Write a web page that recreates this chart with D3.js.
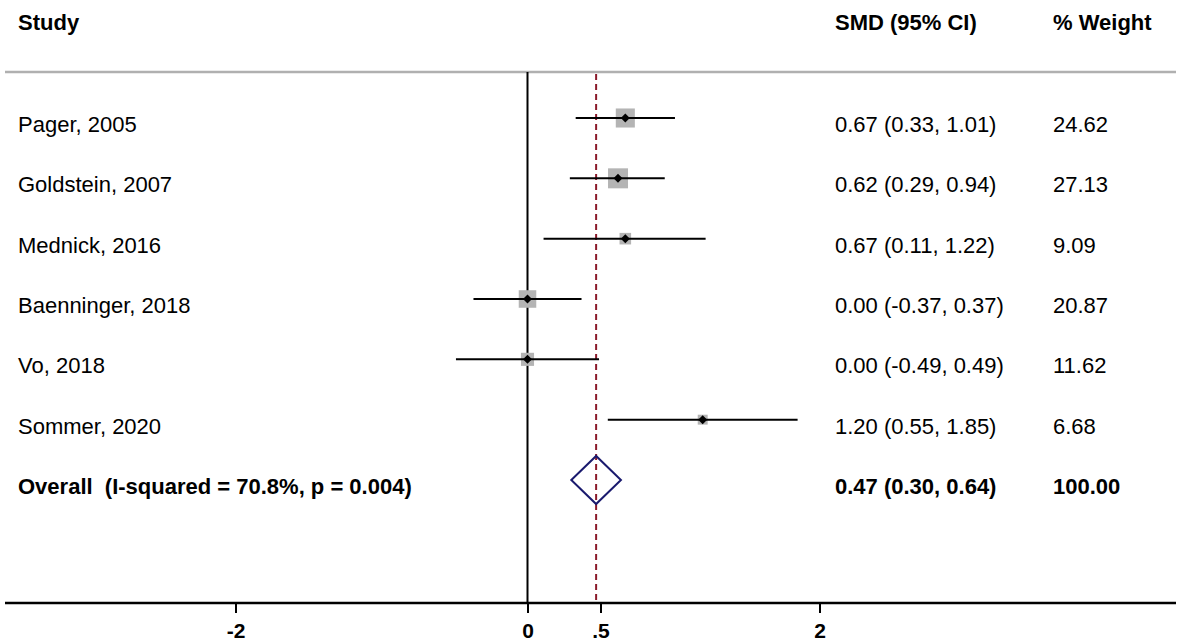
<!DOCTYPE html>
<html>
<head>
<meta charset="utf-8">
<script src="https://cdn.jsdelivr.net/npm/d3@7"></script>
<style>
  html, body { margin: 0; padding: 0; background: #fff; }
  text { font-family: "Liberation Sans", Arial, sans-serif; fill: #000; }
</style>
</head>
<body>
<svg id="chart" width="1181" height="643"></svg>
<script>
const studies = ["Pager, 2005", "Goldstein, 2007", "Mednick, 2016", "Baenninger, 2018", "Vo, 2018", "Sommer, 2020"];
const smd = [0.67, 0.62, 0.67, 0.00, 0.00, 1.20];
const lower = [0.33, 0.29, 0.11, -0.37, -0.49, 0.55];
const upper = [1.01, 0.94, 1.22, 0.37, 0.49, 1.85];
const weights = ["24.62", "27.13", "9.09", "20.87", "11.62", "6.68"];
const ciLabels = ["0.67 (0.33, 1.01)", "0.62 (0.29, 0.94)", "0.67 (0.11, 1.22)", "0.00 (-0.37, 0.37)", "0.00 (-0.49, 0.49)", "1.20 (0.55, 1.85)"];

const overallLabel = "Overall  (I-squared = 70.8%, p = 0.004)";
const overallEst = 0.47, overallLow = 0.30, overallHigh = 0.64;
const overallCi = "0.47 (0.30, 0.64)";
const overallWeight = "100.00";

const xTicks = [-2, 0, 0.5, 2];
const xTickLabels = ["-2", "0", ".5", "2"];

const width = 1181, height = 643;
const topRule = 72, axisY = 603;
const colStudy = 18, colCi = 835, colWeight = 1053;

const svg = d3.select("#chart");

const x = d3.scaleLinear().domain([-2, 2]).range([235.5, 819.5]);
const y = d3.scalePoint()
    .domain(studies.concat(["Overall"]))
    .range([118, 480]);
const side = d3.scaleSqrt().domain([0, 27.13]).range([0, 20]);

const rows = studies.map((s, i) => ({
    name: s, est: smd[i], lo: lower[i], hi: upper[i],
    w: +weights[i], wLabel: weights[i], ci: ciLabels[i]
}));

//headers
let head = svg.append("g").attr("font-weight", "bold").attr("font-size", 22);
head.append("text").attr("x", colStudy).attr("y", 30).text("Study");
head.append("text").attr("x", colCi).attr("y", 30).text("SMD (95% CI)");
head.append("text").attr("x", colWeight).attr("y", 30).text("% Weight");

svg.append("line")
    .attr("x1", 5).attr("x2", 1176)
    .attr("y1", topRule).attr("y2", topRule)
    .attr("stroke", "#b0b0b0").attr("stroke-width", 2.5);

//null line and overall line
svg.append("line")
    .attr("x1", x(0)).attr("x2", x(0))
    .attr("y1", topRule).attr("y2", axisY)
    .attr("stroke", "#000").attr("stroke-width", 2);

svg.append("line")
    .attr("x1", x(overallEst)).attr("x2", x(overallEst))
    .attr("y1", topRule + 2).attr("y2", axisY)
    .attr("stroke", "#8b1a2a").attr("stroke-width", 2)
    .attr("stroke-dasharray", "6,4");

//study rows
let row_g = svg.selectAll(".row")
    .data(rows)
    .enter().append("g")
    .attr("class", "row");

row_g.append("rect")
    .attr("fill", "#b4b4b4")
    .attr("x", d => x(d.est) - side(d.w) / 2)
    .attr("y", d => y(d.name) - side(d.w) / 2)
    .attr("width", d => side(d.w))
    .attr("height", d => side(d.w));

row_g.append("line")
    .attr("x1", d => x(d.lo)).attr("x2", d => x(d.hi))
    .attr("y1", d => y(d.name)).attr("y2", d => y(d.name))
    .attr("stroke", "#000").attr("stroke-width", 2);

row_g.append("path")
    .attr("fill", "#000")
    .attr("d", d => {
        let cx = x(d.est), cy = y(d.name), r = 4.5;
        return `M${cx - r},${cy}L${cx},${cy - r}L${cx + r},${cy}L${cx},${cy + r}Z`;
    });

row_g.append("text")
    .attr("x", colStudy).attr("y", d => y(d.name) + 14)
    .attr("font-size", 22)
    .text(d => d.name);

row_g.append("text")
    .attr("x", colCi).attr("y", d => y(d.name) + 14)
    .attr("font-size", 22)
    .text(d => d.ci);

row_g.append("text")
    .attr("x", colWeight).attr("y", d => y(d.name) + 14)
    .attr("font-size", 22)
    .text(d => d.wLabel);

//overall
let oy = y("Overall");
svg.append("path")
    .attr("fill", "none")
    .attr("stroke", "#1a1a6e").attr("stroke-width", 2)
    .attr("d", `M${x(overallLow)},${oy}L${x(overallEst)},${oy - 24}L${x(overallHigh)},${oy}L${x(overallEst)},${oy + 24}Z`);

let over = svg.append("g").attr("font-weight", "bold").attr("font-size", 22);
over.append("text").attr("x", colStudy).attr("y", oy + 14)
    .attr("xml:space", "preserve").style("white-space", "pre")
    .text(overallLabel);
over.append("text").attr("x", colCi).attr("y", oy + 14).text(overallCi);
over.append("text").attr("x", colWeight).attr("y", oy + 14).text(overallWeight);

//axis
svg.append("line")
    .attr("x1", 5).attr("x2", 1176)
    .attr("y1", axisY).attr("y2", axisY)
    .attr("stroke", "#000").attr("stroke-width", 2.5);

let axis_g = svg.append("g")
    .attr("transform", `translate(0,${axisY})`)
    .call(d3.axisBottom(x)
        .tickValues(xTicks)
        .tickFormat((d, i) => xTickLabels[i])
        .tickSize(10));
axis_g.select(".domain").remove();
axis_g.selectAll(".tick line").attr("stroke", "#000").attr("stroke-width", 2);
axis_g.selectAll(".tick text")
    .attr("y", 20)
    .attr("dy", "0.71em")
    .attr("font-family", "'Liberation Sans Narrow', 'Liberation Sans', Arial, sans-serif")
    .attr("font-size", 21)
    .attr("font-weight", "bold")
    .attr("fill", "#000");
</script>
</body>
</html>
